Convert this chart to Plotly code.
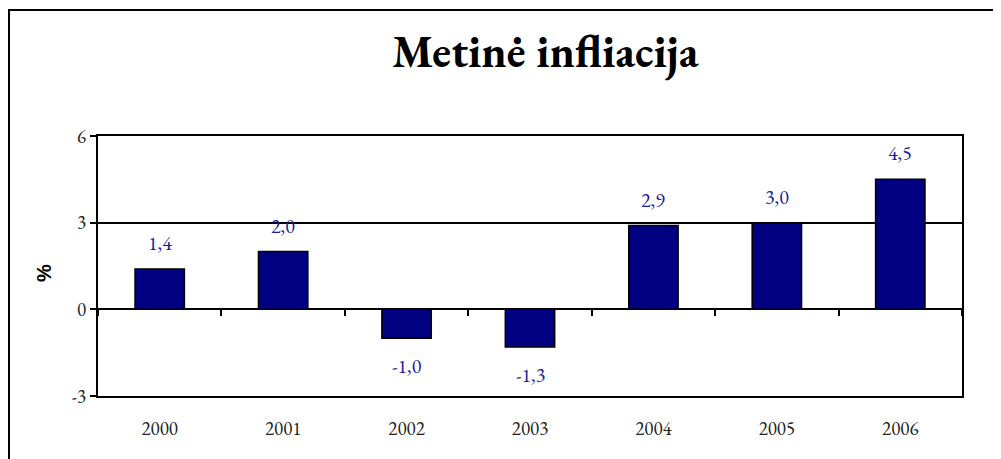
import plotly.graph_objects as go

years = ["2000", "2001", "2002", "2003", "2004", "2005", "2006"]
inflation = [1.4, 2.0, -1.0, -1.3, 2.9, 3.0, 4.5]
y_ticks = [-3, 0, 3, 6]
title_text = "Metinė infliacija"
y_title = "%"

# page body has an 8px margin; work in target-pixel coordinates and compensate
OFF = 8
W, H = 1001 - OFF, 459 - OFF
L_PX, R_PX, T_PX, B_PX = 98, 962, 136, 396  # plot area in target pixels
ML = L_PX - OFF
MT = T_PX - OFF
MR = W - (R_PX - OFF)
MB = H - (B_PX - OFF)
PW, PH = R_PX - L_PX, B_PX - T_PX

def px_x(p):
    return (p - L_PX) / PW

def px_y(p):
    return (B_PX - p) / PH

serif = "Garamond, 'EB Garamond', 'Liberation Serif', 'Times New Roman', serif"
navy = "#000080"

idx = list(range(len(years)))
fig = go.Figure()
fig.add_trace(go.Bar(
    x=idx, y=inflation, width=0.4,
    marker=dict(color=navy, line=dict(color="black", width=1.5)),
    hoverinfo="skip", showlegend=False,
))
# invisible trace for tick-axis at zero line
fig.add_trace(go.Scatter(x=[-0.5, 6.5], y=[0, 0], xaxis="x2", mode="lines",
                         line=dict(width=0), opacity=0, showlegend=False, hoverinfo="skip"))

annotations = []
for i, v in enumerate(inflation):
    label = f"{v:.1f}".replace(".", ",")
    annotations.append(dict(
        x=i, y=v, xref="x", yref="y", text=label, showarrow=False,
        yanchor="bottom" if v >= 0 else "top",
        yshift=11 if v >= 0 else -13,
        font=dict(family=serif, size=20, color="#1c1c9c"),
    ))
annotations.append(dict(
    x=px_x(545), y=px_y(51), xref="paper", yref="paper", text=f"<b>{title_text}</b>",
    showarrow=False, xanchor="center", yanchor="middle",
    font=dict(family=serif, size=45, color="black"),
))
annotations.append(dict(
    x=px_x(44), y=px_y(273), xref="paper", yref="paper", text=f"<b>{y_title}</b>",
    showarrow=False, textangle=-90, xanchor="center", yanchor="middle",
    font=dict(family="Liberation Sans, Arial, sans-serif", size=20, color="black"),
))

fig.update_layout(
    width=W, height=H,
    margin=dict(l=ML, r=MR, t=MT, b=MB, pad=0),
    paper_bgcolor="white", plot_bgcolor="white",
    annotations=annotations,
    xaxis=dict(
        range=[-0.5, 6.5], tickvals=idx, ticktext=years, ticks="outside",
        ticklen=14, tickcolor="rgba(0,0,0,0)",
        showline=True, linecolor="black", linewidth=2, mirror=True,
        showgrid=False, zeroline=False,
        tickfont=dict(family=serif, size=19, color="#222222"),
    ),
    xaxis2=dict(
        overlaying="x", anchor="free", position=1/3, range=[-0.5, 6.5],
        tickvals=[i + 0.5 for i in range(-1, 7)], ticks="outside", ticklen=6,
        tickwidth=1.5, tickcolor="black", showticklabels=False,
        showline=False, showgrid=False, zeroline=False,
    ),
    yaxis=dict(
        range=[-3, 6], tickvals=y_ticks, ticktext=[str(t) for t in y_ticks],
        ticks="outside", ticklen=6, tickwidth=2, tickcolor="black",
        showline=True, linecolor="black", linewidth=2, mirror=True,
        showgrid=True, gridcolor="black", gridwidth=1.5,
        zeroline=True, zerolinecolor="black", zerolinewidth=2,
        tickfont=dict(family=serif, size=19, color="#222222"),
    ),
    shapes=[dict(
        type="rect", xref="paper", yref="paper",
        x0=px_x(OFF + 1), x1=px_x(1010), y0=px_y(470), y1=px_y(10),
        line=dict(color="black", width=2), fillcolor="rgba(0,0,0,0)", layer="above",
    )],
)

fig.write_html("out.html")
